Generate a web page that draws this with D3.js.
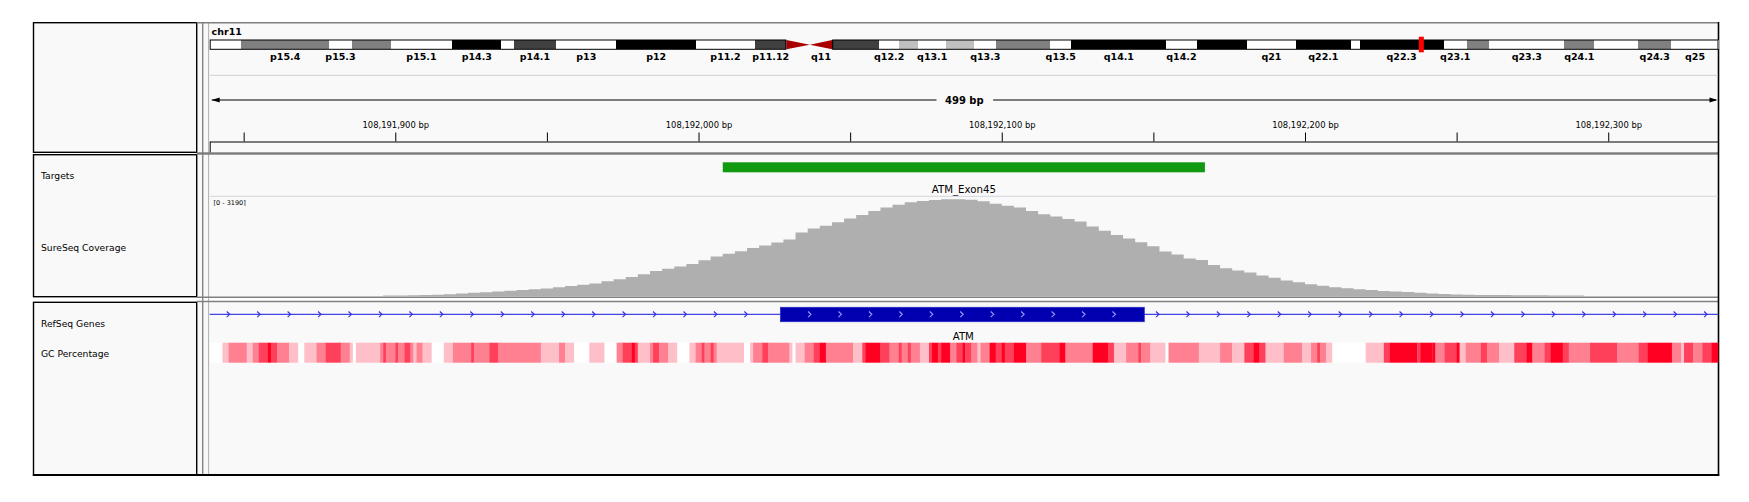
<!DOCTYPE html>
<html>
<head>
<meta charset="utf-8">
<script src="https://cdn.jsdelivr.net/npm/d3@7"></script>
<style>
  body { margin: 0; background: #fff; }
  text { font-family: "DejaVu Sans", sans-serif; }
</style>
</head>
<body>
<div id="chart"></div>
<script>
var width = 1749;
var height = 502;

// ---------- data ----------
var chromName = "chr11";
var chromLength = 135006516;
var bandNames = ["p15.5","p15.4","p15.3","p15.2","p15.1","p14.3","p14.2","p14.1","p13","p12",
    "p11.2","p11.12","p11.11","q11","q12.1","q12.2","q12.3","q13.1","q13.2","q13.3",
    "q13.4","q13.5","q14.1","q14.2","q14.3","q21","q22.1","q22.2","q22.3","q23.1",
    "q23.2","q23.3","q24.1","q24.2","q24.3","q25"];
var bandStarts = [0,2800000,10700000,12700000,16200000,21700000,26100000,27200000,31000000,36400000,
    43500000,48800000,51600000,53700000,55700000,59900000,61700000,63400000,65900000,68400000,
    70400000,75200000,77100000,85600000,88300000,92800000,97200000,102100000,102900000,110400000,
    112500000,114500000,121200000,123900000,127800000,130800000];
var bandStains = ["gneg","gpos50","gneg","gpos50","gneg","gpos100","gneg","gpos75","gneg","gpos100",
    "gneg","gpos75","acen","acen","gpos75","gneg","gpos25","gneg","gpos25","gneg",
    "gpos50","gneg","gpos100","gneg","gpos100","gneg","gpos100","gneg","gpos100","gneg",
    "gpos50","gneg","gpos50","gneg","gpos50","gneg"];
var bandLabels = ["p15.4","p15.3","p15.1","p14.3","p14.1","p13","p12","p11.2","p11.12","q11",
    "q12.2","q13.1","q13.3","q13.5","q14.1","q14.2","q21","q22.1","q22.3","q23.1",
    "q23.3","q24.1","q24.3","q25"];

var viewStart = 108191838.8;
var viewEnd = 108192336.2;
var spanLabel = "499 bp";
var tickValues = [108191850,108191900,108191950,108192000,108192050,108192100,
    108192150,108192200,108192250,108192300];
var labelTicks = [108191900,108192000,108192100,108192200,108192300];

var targetStarts = [108192008];
var targetEnds = [108192167];
var targetNames = ["ATM_Exon45"];

var covStart = 108191896;
var covBin = 4;
var covMax = 3190;
var covValues = [29,35,41,48,57,70,93,118,137,160,
    182,204,230,255,293,335,373,412,485,552,
    622,708,810,884,957,1037,1155,1279,1362,1445,
    1547,1630,1719,1821,2042,2166,2255,2367,2485,2603,
    2727,2839,2925,3005,3050,3078,3101,3104,3085,3037,
    2957,2893,2839,2727,2625,2552,2472,2393,2233,2096,
    1962,1847,1729,1605,1436,1340,1215,1161,1005,903,
    826,762,673,597,510,453,392,341,297,262,
    233,204,179,160,140,118,99,80,67,57,
    51,48,45,41,38,38,35,32,29];

var geneName = "ATM";
var geneStart = 108093559;
var geneEnd = 108239826;
var exonStarts = [108192027];
var exonEnds = [108192147];

var gcOrigin = 108191839;
var gcOffsets = [0,4,6,12,14,16,19,20,22,26,
    29,31,35,38,43,46,47,48,56,57,
    58,61,62,64,66,67,68,70,73,77,
    80,86,87,92,95,109,115,117,120,125,
    130,134,136,139,140,141,145,146,148,151,
    154,158,160,162,163,165,166,167,176,178,
    179,182,184,191,192,193,196,199,201,203,
    212,215,216,221,224,227,228,230,231,234,
    237,238,240,241,244,246,248,249,251,253,
    254,257,259,261,262,265,269,274,280,282,
    291,296,298,302,306,307,310,315,316,326,
    333,337,341,344,346,348,354,360,363,365,
    366,368,370,381,387,389,398,399,403,404,
    407,411,412,414,419,421,425,430,434,436,
    440,442,446,448,455,464,471,474,482,485,
    486,489,492,495];
var gcPercent = [20,40,60,40,60,80,100,80,60,40,
    20,40,60,80,60,40,20,40,60,80,
    60,80,60,80,60,40,60,40,20,40,
    60,80,60,80,60,40,60,40,20,40,
    20,60,80,100,80,40,60,80,60,40,
    20,40,60,80,60,80,60,40,20,40,
    60,80,60,40,20,40,60,80,100,60,
    40,80,100,80,60,80,60,80,60,40,
    80,100,80,100,60,80,100,80,60,40,
    60,100,80,100,80,100,60,80,100,60,
    100,80,40,60,80,60,40,20,60,40,
    60,40,80,100,80,40,60,40,60,80,
    60,40,20,40,80,100,80,100,100,60,
    80,100,40,60,80,60,40,80,100,60,
    80,100,80,60,80,60,80,100,60,40,
    80,60,80,100];

var trackNames = ["Targets","SureSeq Coverage","RefSeq Genes","GC Percentage"];
var trackNameY = [179.3, 250.6, 326.6, 356.6];

// ---------- layout ----------
var nameX0 = 33.5, nameX1 = 196.7, dataX0 = 209.7, dataX1 = 1718;
var panels = [[22.7,152.3],[154.7,296.7],[302.3,474.7]];

var svg = d3.select("#chart").append("svg")
    .attr("width", width)
    .attr("height", height);

svg.append("rect").attr("width", width).attr("height", height).attr("fill", "#fff");

// panel backgrounds
svg.append("g").selectAll("rect")
    .data(panels).enter()
    .append("rect")
    .attr("x", nameX1).attr("y", function(d){ return d[0]; })
    .attr("width", dataX1 - nameX1)
    .attr("height", function(d){ return d[1] - d[0]; })
    .attr("fill", "#f9f9f9");

// name boxes
svg.append("g").selectAll("rect")
    .data(panels).enter()
    .append("rect")
    .attr("x", nameX0).attr("y", function(d){ return d[0]; })
    .attr("width", nameX1 - nameX0)
    .attr("height", function(d){ return d[1] - d[0]; })
    .attr("fill", "#f9f9f9")
    .attr("stroke", "#000")
    .attr("stroke-width", 1.4);

// attribute column lines
svg.append("line").attr("x1", 202.8).attr("x2", 202.8).attr("y1", 22.7).attr("y2", 474.7)
    .attr("stroke", "#555").attr("stroke-width", 1);
svg.append("line").attr("x1", 208.6).attr("x2", 208.6).attr("y1", 22.7).attr("y2", 474.7)
    .attr("stroke", "#b0b0b0").attr("stroke-width", 1);

// separators
svg.append("line").attr("x1", nameX1).attr("x2", dataX1).attr("y1", 22.7).attr("y2", 22.7)
    .attr("stroke", "#7f7f7f").attr("stroke-width", 1.5);
svg.append("rect").attr("x", nameX1).attr("y", 152.3).attr("width", dataX1 - nameX1).attr("height", 2.4)
    .attr("fill", "#7a7a7a");
[297.2, 301.6].forEach(function(y){
    svg.append("line").attr("x1", nameX1).attr("x2", dataX1).attr("y1", y).attr("y2", y)
        .attr("stroke", "#808080").attr("stroke-width", 1.5);
});
svg.append("line").attr("x1", dataX1 + 0.5).attr("x2", dataX1 + 0.5).attr("y1", 22).attr("y2", 475.5)
    .attr("stroke", "#000").attr("stroke-width", 1.6);
svg.append("line").attr("x1", nameX0 - 0.7).attr("x2", dataX1 + 1.3).attr("y1", 475).attr("y2", 475)
    .attr("stroke", "#000").attr("stroke-width", 2.2);

// track names
svg.append("g").selectAll("text")
    .data(trackNames).enter()
    .append("text")
    .attr("x", 41)
    .attr("y", function(d,i){ return trackNameY[i]; })
    .attr("font-size", "9.2px")
    .attr("fill", "#000")
    .text(function(d){ return d; });

// ---------- ideogram ----------
var ideoX = d3.scaleLinear().domain([0, chromLength]).range([dataX0, dataX1 + 0.5]);
var ideoTop = 40, ideoBot = 49.3, ideoMid = (ideoTop + ideoBot) / 2;
var stainColor = { gneg: "#ffffff", gpos25: "#c0c0c0", gpos50: "#808080", gpos75: "#404040", gpos100: "#000000" };
var bands = bandNames.map(function(n, i){
    return { name: n, start: bandStarts[i],
        end: i < bandStarts.length - 1 ? bandStarts[i + 1] : chromLength,
        stain: bandStains[i] };
});

svg.append("text").attr("x", 211.6).attr("y", 35.3)
    .attr("font-size", "9.5px").attr("font-weight", "bold")
    .text(chromName);

var ideo = svg.append("g").attr("id", "ideogram");
ideo.selectAll("rect.band")
    .data(bands.filter(function(b){ return b.stain !== "acen"; }))
    .enter().append("rect")
    .attr("class", "band")
    .attr("x", function(b){ return ideoX(b.start); })
    .attr("y", ideoTop)
    .attr("width", function(b){ return ideoX(b.end) - ideoX(b.start); })
    .attr("height", ideoBot - ideoTop)
    .attr("fill", function(b){ return stainColor[b.stain]; })
    .attr("shape-rendering", "crispEdges");

var acen = bands.filter(function(b){ return b.stain === "acen"; });
ideo.selectAll("path.acen")
    .data(acen).enter().append("path")
    .attr("d", function(b){
        var x0 = ideoX(b.start), x1 = ideoX(b.end);
        if (b.name.charAt(0) === "p")
            return "M" + x0 + "," + ideoTop + "L" + x1 + "," + ideoMid + "L" + x0 + "," + ideoBot + "Z";
        return "M" + x1 + "," + ideoTop + "L" + x0 + "," + ideoMid + "L" + x1 + "," + ideoBot + "Z";
    })
    .attr("fill", "#a80000");

// arm outlines
var pEnd = acen[0].start, qStart = acen[1].end;
[[0, pEnd], [qStart, chromLength]].forEach(function(a){
    ideo.append("rect")
        .attr("x", ideoX(a[0]) + 0.5).attr("y", ideoTop)
        .attr("width", ideoX(a[1]) - ideoX(a[0]) - 1).attr("height", ideoBot - ideoTop)
        .attr("fill", "none").attr("stroke", "#000").attr("stroke-width", 1);
});

ideo.selectAll("text")
    .data(bands.filter(function(b){ return bandLabels.indexOf(b.name) >= 0; }))
    .enter().append("text")
    .attr("x", function(b){ return (ideoX(b.start) + ideoX(b.end)) / 2; })
    .attr("y", 59.5)
    .attr("text-anchor", "middle")
    .attr("font-size", "9.5px")
    .attr("font-weight", "bold")
    .text(function(b){ return b.name; });

// current view marker
ideo.append("rect")
    .attr("x", ideoX(viewStart))
    .attr("y", 36.7)
    .attr("width", Math.max(5, ideoX(viewEnd) - ideoX(viewStart)))
    .attr("height", 15.6)
    .attr("fill", "#ff0000");

svg.append("line").attr("x1", dataX0).attr("x2", dataX1).attr("y1", 75.3).attr("y2", 75.3)
    .attr("stroke", "#cfcfcf").attr("stroke-width", 1);

// ---------- ruler ----------
var x = d3.scaleLinear().domain([viewStart, viewEnd]).range([dataX0, dataX1]);

var span = svg.append("text")
    .attr("x", (dataX0 + dataX1) / 2 + 0.5)
    .attr("y", 103.6)
    .attr("text-anchor", "middle")
    .attr("font-size", "10px")
    .attr("font-weight", "bold")
    .text(spanLabel);
var sw = span.node().getBBox().width;
var midX = (dataX0 + dataX1) / 2;
svg.append("line").attr("x1", dataX0 + 2).attr("x2", midX - sw / 2 - 8).attr("y1", 100).attr("y2", 100)
    .attr("stroke", "#000").attr("stroke-width", 1);
svg.append("line").attr("x1", midX + sw / 2 + 10).attr("x2", dataX1 - 2).attr("y1", 100).attr("y2", 100)
    .attr("stroke", "#000").attr("stroke-width", 1);
svg.append("path").attr("d", "M" + (dataX0 + 2) + ",100l8,-2.5v5z").attr("fill", "#000");
svg.append("path").attr("d", "M" + (dataX1 - 0.5) + ",100l-8,-2.5v5z").attr("fill", "#000");

var axis = d3.axisTop(x)
    .tickValues(tickValues)
    .tickSize(9)
    .tickSizeOuter(0)
    .tickPadding(5)
    .tickFormat(function(d){ return labelTicks.indexOf(d) >= 0 ? d3.format(",")(d) + " bp" : ""; });
var ag = svg.append("g").attr("transform", "translate(0,141.5)").call(axis);
ag.selectAll("text").attr("font-family", "DejaVu Sans").attr("font-size", "8.4px").attr("fill", "#000");
ag.selectAll("line").attr("stroke", "#000");
ag.select(".domain").attr("stroke", "#000");
svg.append("line").attr("x1", dataX0 + 0.5).attr("x2", dataX0 + 0.5).attr("y1", 141.5).attr("y2", 152.3)
    .attr("stroke", "#000").attr("stroke-width", 1);

// ---------- targets ----------
svg.append("g").selectAll("rect")
    .data(targetStarts).enter()
    .append("rect")
    .attr("x", function(d){ return x(d); })
    .attr("y", 162.3)
    .attr("width", function(d,i){ return x(targetEnds[i]) - x(d); })
    .attr("height", 10)
    .attr("fill", "#119911");
svg.append("g").selectAll("text")
    .data(targetStarts).enter()
    .append("text")
    .attr("x", function(d,i){ return (x(d) + x(targetEnds[i])) / 2; })
    .attr("y", 192.8)
    .attr("text-anchor", "middle")
    .attr("font-size", "10.2px")
    .text(function(d,i){ return targetNames[i]; });

// ---------- coverage ----------
svg.append("line").attr("x1", dataX0).attr("x2", dataX1).attr("y1", 196.3).attr("y2", 196.3)
    .attr("stroke", "#d4d4dc").attr("stroke-width", 1);
var yCov = d3.scaleLinear().domain([0, covMax]).range([296.5, 196.5]);
var covPts = covValues.map(function(v, i){ return { pos: covStart + i * covBin, v: v }; });
covPts.push({ pos: covStart + covValues.length * covBin, v: covValues[covValues.length - 1] });
svg.append("path")
    .datum(covPts)
    .attr("d", d3.area()
        .curve(d3.curveStepAfter)
        .x(function(d){ return x(d.pos); })
        .y0(yCov(0))
        .y1(function(d){ return yCov(d.v); }))
    .attr("fill", "#afafaf");
svg.append("text").attr("x", 213.5).attr("y", 205.4)
    .attr("font-size", "6.5px")
    .text("[0 - " + covMax + "]");

// ---------- genes ----------
var geneY = 314.3;
svg.append("line")
    .attr("x1", Math.max(dataX0, x(geneStart)))
    .attr("x2", Math.min(dataX1, x(geneEnd)))
    .attr("y1", geneY).attr("y2", geneY)
    .attr("stroke", "#4444e6").attr("stroke-width", 1.3);

var ex0 = x(exonStarts[0]), ex1 = x(exonEnds[0]);
var intronArrows = d3.range(228.5, ex0 - 10, 30.45).concat(d3.range(ex1 + 13.5, dataX1 - 5, 30.45));
var exonArrows = d3.range(ex0 + 29.4, ex1 - 10, 30.45);
var chevron = "M-1.8,-2.8L1.2,0L-1.8,2.8";
svg.append("g").selectAll("path")
    .data(intronArrows).enter()
    .append("path")
    .attr("transform", function(d){ return "translate(" + d + "," + geneY + ")"; })
    .attr("d", chevron)
    .attr("fill", "none").attr("stroke", "#3030e0").attr("stroke-width", 1.1);

svg.append("g").selectAll("rect")
    .data(exonStarts).enter()
    .append("rect")
    .attr("x", function(d){ return x(d); })
    .attr("y", 307.3)
    .attr("width", function(d,i){ return x(exonEnds[i]) - x(d); })
    .attr("height", 14.4)
    .attr("fill", "#0000b0")
    .attr("stroke", "#2a2acc")
    .attr("stroke-width", 0.8);
svg.append("g").selectAll("path")
    .data(exonArrows).enter()
    .append("path")
    .attr("transform", function(d){ return "translate(" + d + "," + geneY + ")"; })
    .attr("d", chevron)
    .attr("fill", "none").attr("stroke", "#9a9aff").attr("stroke-width", 1.1);

svg.append("text")
    .attr("x", (ex0 + ex1) / 2 + 1)
    .attr("y", 339.8)
    .attr("text-anchor", "middle")
    .attr("font-size", "10.2px")
    .text(geneName);

// ---------- GC percentage ----------
var gcColor = d3.scaleLinear().domain([20, 100]).range(["#ffffff", "#ff0023"]).clamp(true);
var gcSegs = gcOffsets.map(function(o, i){
    return { start: gcOrigin + o,
        end: i < gcOffsets.length - 1 ? gcOrigin + gcOffsets[i + 1] : viewEnd,
        gc: gcPercent[i] };
});
svg.append("g").selectAll("rect")
    .data(gcSegs).enter()
    .append("rect")
    .attr("x", function(d){ return Math.max(dataX0, x(d.start)); })
    .attr("y", 342.7)
    .attr("width", function(d){ return Math.min(dataX1, x(d.end)) - Math.max(dataX0, x(d.start)) + 0.3; })
    .attr("height", 20)
    .attr("fill", function(d){ return gcColor(d.gc); });
</script>
</body>
</html>
